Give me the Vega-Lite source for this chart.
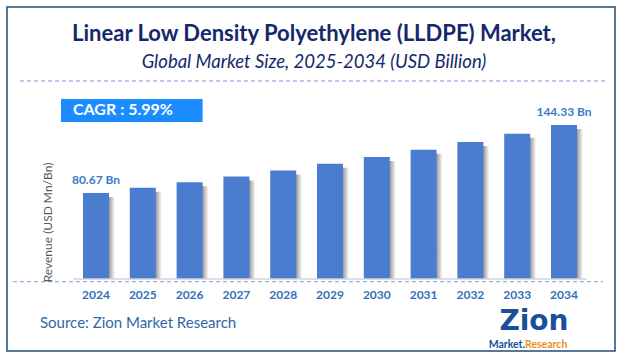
{
  "$schema": "https://vega.github.io/schema/vega-lite/v6.json",
  "autosize": "none",
  "width": 608,
  "height": 344,
  "padding": {"left": 7, "top": 7, "right": 8, "bottom": 7},
  "background": "white",
  "config": {
    "view": {"stroke": "#1f4e79", "strokeWidth": 1.5},
    "font": "Lato"
  },
  "title": {
    "text": "Linear Low Density Polyethylene (LLDPE) Market,",
    "subtitle": "Global Market Size, 2025-2034 (USD Billion)",
    "anchor": "middle",
    "dx": 3,
    "offset": -65,
    "font": "Lato",
    "fontSize": 22,
    "fontWeight": "bold",
    "color": "#14286b",
    "subtitleFont": "Lato",
    "subtitleFontSize": 18.5,
    "subtitleFontStyle": "italic",
    "subtitleColor": "#14286b",
    "subtitlePadding": 6.5
  },
  "data": {
    "values": [
      {"year": "2024", "value": 80.67, "label": "80.67 Bn"},
      {"year": "2025", "value": 85.50, "label": ""},
      {"year": "2026", "value": 90.62, "label": ""},
      {"year": "2027", "value": 96.05, "label": ""},
      {"year": "2028", "value": 101.80, "label": ""},
      {"year": "2029", "value": 107.90, "label": ""},
      {"year": "2030", "value": 114.37, "label": ""},
      {"year": "2031", "value": 121.22, "label": ""},
      {"year": "2032", "value": 128.48, "label": ""},
      {"year": "2033", "value": 136.17, "label": ""},
      {"year": "2034", "value": 144.33, "label": "144.33 Bn"}
    ]
  },
  "layer": [
    {
      "mark": {"type": "bar", "xOffset": 6, "yOffset": 4,
        "color": {"gradient": "linear", "x1": 0, "x2": 1, "y1": 0, "y2": 0,
          "stops": [{"offset": 0, "color": "#a0a0a0"}, {"offset": 0.77, "color": "#9a9a9a"}, {"offset": 1, "color": "#ffffff"}]}},
      "encoding": {
        "x": {"field": "year", "type": "ordinal",
          "scale": {"domain": ["2024","2025","2026","2027","2028","2029","2030","2031","2032","2033","2034"], "range": [76, 570], "paddingInner": 0.4444, "paddingOuter": 0},
          "axis": {"orient": "bottom", "offset": -72, "domain": false, "ticks": false, "tickSize": 0, "labelPadding": 10, "labelAngle": 0,
            "labelFont": "Lato", "labelFontSize": 12, "labelFontWeight": "bold", "labelColor": "#3470b8", "title": null, "grid": false}},
        "y": {"field": "value", "type": "quantitative",
          "scale": {"domain": [-67.48, 254.92], "nice": false, "zero": false},
          "axis": null},
        "y2": {"datum": 0}
      }
    },
    {
      "mark": {"type": "bar", "color": "#4a7ccf"},
      "encoding": {
        "x": {"field": "year", "type": "ordinal"},
        "y": {"field": "value", "type": "quantitative"},
        "y2": {"datum": 0}
      }
    },
    {
      "mark": {"type": "text", "dy": -13, "baseline": "middle", "align": "center", "font": "Lato", "fontSize": 12, "fontWeight": "bold", "color": "#3a7bc8"},
      "encoding": {
        "x": {"field": "year", "type": "ordinal"},
        "y": {"field": "value", "type": "quantitative"},
        "text": {"field": "label"}
      }
    },
    {
      "data": {"values": [{}]},
      "mark": {"type": "rule", "color": "#d4d4d4", "strokeWidth": 1.5, "xOffset": -10, "x2Offset": 10},
      "encoding": {
        "x": {"datum": "2024", "bandPosition": 0},
        "x2": {"datum": "2034", "bandPosition": 1},
        "y": {"datum": 0}
      }
    },
    {
      "data": {"values": [{}]},
      "mark": {"type": "rule", "color": "#7a9ad8", "strokeWidth": 1, "strokeDash": [4, 3], "xOffset": -63, "x2Offset": 28},
      "encoding": {
        "x": {"datum": "2024", "bandPosition": 0},
        "x2": {"datum": "2034", "bandPosition": 1},
        "y": {"datum": 185.57}
      }
    },
    {
      "data": {"values": [{}]},
      "mark": {"type": "rule", "color": "#7a9ad8", "strokeWidth": 1, "strokeDash": [4, 3], "xOffset": -70, "x2Offset": 26},
      "encoding": {
        "x": {"datum": "2024", "bandPosition": 0},
        "x2": {"datum": "2034", "bandPosition": 1},
        "y": {"datum": -2.53}
      }
    },
    {
      "data": {"values": [{}]},
      "mark": {"type": "rect", "color": "#1a8cff", "xOffset": -22},
      "encoding": {
        "x": {"datum": "2024", "bandPosition": 0},
        "x2": {"datum": "2026", "bandPosition": 1},
        "y": {"datum": 168.70},
        "y2": {"datum": 147.14}
      }
    },
    {
      "data": {"values": [{}]},
      "mark": {"type": "text", "text": "CAGR :  5.99%", "align": "left", "baseline": "middle", "xOffset": -10, "font": "Lato", "fontSize": 16, "fontWeight": "bold", "color": "white"},
      "encoding": {
        "x": {"datum": "2024", "bandPosition": 0},
        "y": {"datum": 157.92}
      }
    },
    {
      "data": {"values": [{}]},
      "mark": {"type": "text", "text": "Revenue (USD Mn/Bn)", "angle": 270, "align": "center", "baseline": "middle", "xOffset": -48, "font": "Lato", "fontSize": 12, "color": "#595959"},
      "encoding": {
        "x": {"datum": "2024"},
        "y": {"datum": 52.95}
      }
    },
    {
      "data": {"values": [{}]},
      "mark": {"type": "text", "text": "Source: Zion Market Research", "align": "left", "baseline": "middle", "xOffset": -43, "font": "Lato", "fontSize": 15, "color": "#2f67a6"},
      "encoding": {
        "x": {"datum": "2024", "bandPosition": 0},
        "y": {"datum": -41.24}
      }
    },
    {
      "data": {"values": [{}]},
      "mark": {"type": "text", "text": "Zion", "align": "center", "baseline": "middle", "xOffset": -17, "font": "DejaVu Sans", "fontSize": 28, "fontWeight": "bold", "color": "#1b4f9c"},
      "encoding": {
        "x": {"datum": "2034", "bandPosition": 0},
        "y": {"datum": -40.3}
      }
    },
    {
      "data": {"values": [{}]},
      "mark": {"type": "text", "text": "Market.", "align": "right", "baseline": "middle", "xOffset": -26, "font": "Lato", "fontSize": 10.5, "fontWeight": "bold", "color": "#1b4f9c"},
      "encoding": {
        "x": {"datum": "2034", "bandPosition": 0},
        "y": {"datum": -61.8}
      }
    },
    {
      "data": {"values": [{}]},
      "mark": {"type": "text", "text": "Research", "align": "left", "baseline": "middle", "xOffset": -26, "font": "Lato", "fontSize": 10.5, "fontWeight": "bold", "color": "#f08c1a"},
      "encoding": {
        "x": {"datum": "2034", "bandPosition": 0},
        "y": {"datum": -61.8}
      }
    }
  ]
}
